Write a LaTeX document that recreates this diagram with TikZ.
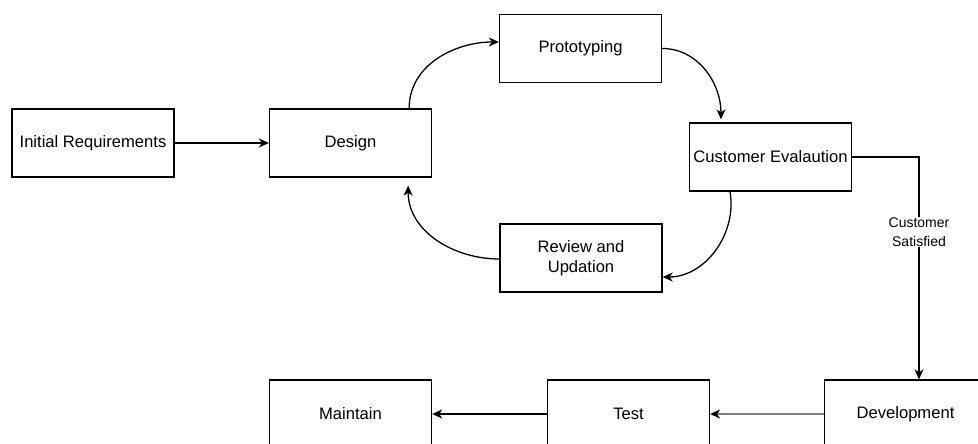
\documentclass[tikz,border=0pt]{standalone}
\usepackage{fontspec}
\setmainfont{Liberation Sans}
\usetikzlibrary{arrows.meta}
\begin{document}
\begin{tikzpicture}[x=1pt,y=1pt,
  box/.style={draw,line width=1.3pt,minimum width=162pt,minimum height=68pt,inner sep=0pt,align=center,font=\fontsize{16.6}{20}\selectfont},
  lbl/.style={fill=white,inner sep=1pt,align=center,font=\fontsize{14}{19}\selectfont},
  tip/.tip={Stealth[length=10pt,width=9pt,inset=3pt]},
  arr/.style={line width=1.3pt,-tip}]
\useasboundingbox (0,0) rectangle (978,444);
\clip (0,0) rectangle (978,444);
\node[box] (init) at (93,301) {Initial Requirements};
\node[box] (design) at (350.5,301) {Design};
\node[box] (proto) at (580.5,395.5) {Prototyping};
\node[box] (ce) at (770.5,287) {Customer Evalaution};
\node[box] (review) at (581,186) {Review and\\Updation};
\node[box] (maintain) at (350.5,30) {Maintain};
\node[box] (test) at (628.5,30) {Test};
\node[box] (dev) at (905.5,30) {Development};

\draw[arr] (init) -- (design);
\draw[arr] ([xshift=-23pt]design.north east) to[out=90,in=180] ([yshift=6.5pt]proto.west);
\draw[arr] (proto.east) to[out=0,in=90] ([xshift=-49.5pt,yshift=3pt]ce.north);
\draw[arr] ([xshift=-40.5pt]ce.south) to[out=-80,in=0] ([yshift=-19pt]review.east);
\draw[arr] ([yshift=-1pt]review.west) to[out=180,in=-90] ([xshift=-24pt,yshift=-8pt]design.south east);
\draw[arr] (ce.east) -| ([xshift=13.5pt]dev.north);
\node[lbl] (sat) at (919,212) {Customer\\Satisfied};
\draw[line width=2.6pt,draw=black!50,-{Stealth[length=10pt,width=9pt,inset=3pt,color=black,line width=0pt]}] (dev) -- (test);
\draw[arr] (test) -- (maintain);
\end{tikzpicture}
\end{document}
